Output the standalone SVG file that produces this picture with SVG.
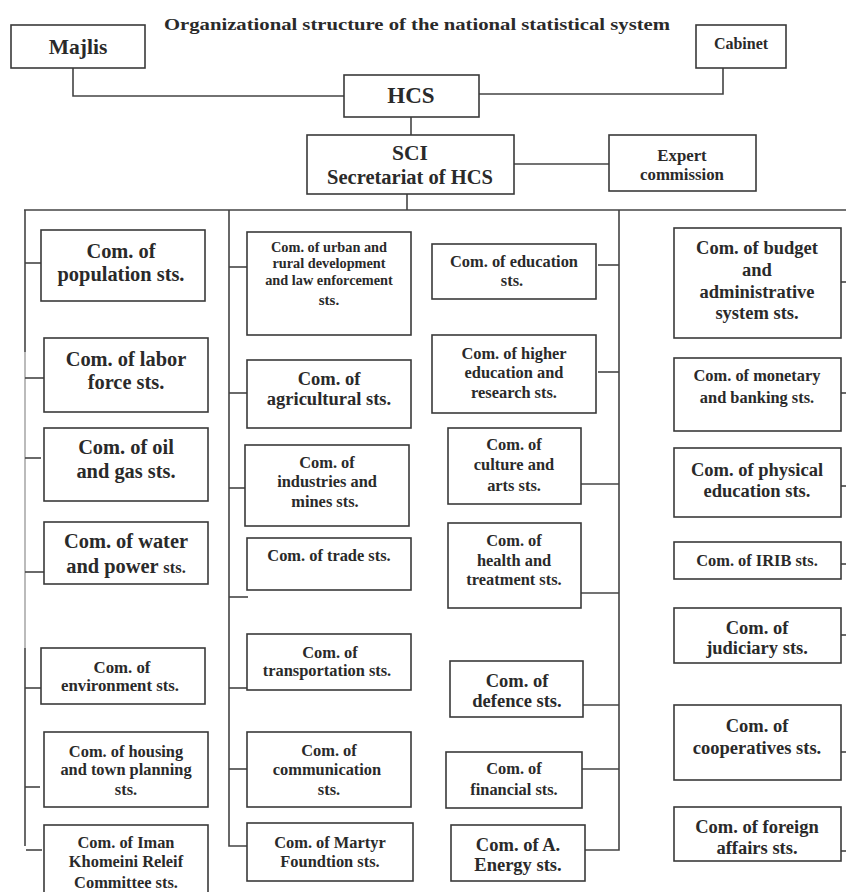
<svg xmlns="http://www.w3.org/2000/svg" width="846" height="892" viewBox="0 0 846 892">
<style>
.b{fill:#fff;stroke:#3a3a3a;stroke-width:1.6}
.t{font-family:"Liberation Serif","Times New Roman",serif;font-weight:bold;fill:#2a2a2a;text-anchor:middle}
.L{font-size:20.4px}
.M{font-size:18.5px}
.S{font-size:16.4px}
.c{fill:none;stroke:#444;stroke-width:1.6}
.g{fill:none;stroke:#aaa;stroke-width:1.6}
</style>
<rect width="846" height="892" fill="#fff"/>
<text class="t" x="417" y="30" font-size="17" textLength="506" lengthAdjust="spacingAndGlyphs">Organizational structure of the national statistical system</text>

<g id="connectors">
<polyline class="c" points="73,68 73,96 344,96"/>
<polyline class="c" points="479,94 723,94 723,68"/>
<line class="c" x1="411" y1="117" x2="411" y2="135"/>
<line class="c" x1="514" y1="164" x2="609" y2="164"/>
<line class="c" x1="407" y1="194" x2="407" y2="210"/>
<line class="c" x1="24" y1="210" x2="846" y2="210"/>
<line class="c" x1="25" y1="210" x2="25" y2="352"/>
<line class="g" x1="25" y1="352" x2="25" y2="648"/>
<line class="c" x1="25" y1="648" x2="25" y2="846"/>
<line class="c" x1="25" y1="263" x2="41" y2="263"/>
<line class="c" x1="25" y1="378" x2="44" y2="378"/>
<line class="c" x1="25" y1="458" x2="41" y2="458"/>
<line class="c" x1="25" y1="572" x2="44" y2="572"/>
<line class="c" x1="25" y1="688" x2="41" y2="688"/>
<line class="c" x1="25" y1="787" x2="40" y2="787"/>
<line class="c" x1="26" y1="850" x2="42" y2="850"/>
<polyline class="c" points="229,210 229,846 247,846"/>
<line class="c" x1="229" y1="267" x2="247" y2="267"/>
<line class="c" x1="229" y1="393" x2="247" y2="393"/>
<line class="c" x1="229" y1="488" x2="245" y2="488"/>
<line class="c" x1="229" y1="597" x2="248" y2="597"/>
<line class="c" x1="229" y1="688" x2="247" y2="688"/>
<line class="c" x1="229" y1="769" x2="247" y2="769"/>
<polyline class="c" points="619,210 619,850 580,850"/>
<line class="c" x1="598" y1="265" x2="619" y2="265"/>
<line class="c" x1="598" y1="372" x2="619" y2="372"/>
<line class="c" x1="581" y1="484" x2="619" y2="484"/>
<line class="c" x1="581" y1="593" x2="619" y2="593"/>
<line class="c" x1="580" y1="705" x2="619" y2="705"/>
<line class="c" x1="582" y1="769" x2="619" y2="769"/>
<line class="c" x1="841" y1="282" x2="846" y2="282"/>
<line class="c" x1="841" y1="393" x2="846" y2="393"/>
<line class="c" x1="841" y1="486" x2="846" y2="486"/>
<line class="c" x1="841" y1="564" x2="846" y2="564"/>
<line class="c" x1="841" y1="635" x2="846" y2="635"/>
<line class="c" x1="841" y1="752" x2="846" y2="752"/>
<line class="c" x1="841" y1="851" x2="846" y2="851"/>
</g>

<g id="majlis"><rect class="b" x="11" y="25" width="134" height="43"/><text class="t" x="78" y="54" font-size="21.5">Majlis</text></g>
<g id="cabinet"><rect class="b" x="696" y="25" width="90" height="43"/><text class="t" x="741" y="49" font-size="16">Cabinet</text></g>
<g id="hcs"><rect class="b" x="344" y="75" width="135" height="42"/><text class="t" x="411" y="103" font-size="23">HCS</text></g>
<g id="sci"><rect class="b" x="307" y="135" width="207" height="59"/><text class="t" x="410" y="160" font-size="21.5">SCI</text><text class="t" x="410" y="184" font-size="20.5">Secretariat of HCS</text></g>
<g id="expert"><rect class="b" x="609" y="135" width="147" height="56"/><text class="t" x="682" y="161" font-size="16.8">Expert</text><text class="t" x="682" y="180" font-size="16.8">commission</text></g>

<g id="population"><rect class="b" x="41" y="230" width="164" height="71"/><text class="t L" x="121" y="258">Com. of</text><text class="t L" x="121" y="281">population sts.</text></g>
<g id="labor"><rect class="b" x="44" y="338" width="164" height="74"/><text class="t L" x="126" y="366">Com. of labor</text><text class="t L" x="126" y="389">force sts.</text></g>
<g id="oilgas"><rect class="b" x="44" y="428" width="164" height="73"/><text class="t L" x="126" y="454">Com. of oil</text><text class="t L" x="126" y="478">and gas sts.</text></g>
<g id="water"><rect class="b" x="44" y="522" width="164" height="62"/><text class="t L" x="126" y="548">Com. of water</text><text class="t L" x="126" y="573">and power <tspan font-size="16.5">sts.</tspan></text></g>
<g id="environment"><rect class="b" x="41" y="648" width="164" height="56"/><text class="t" x="122" y="673" font-size="16.8">Com. of</text><text class="t" x="120" y="691" font-size="16.8">environment  sts.</text></g>
<g id="housing"><rect class="b" x="44" y="732" width="164" height="75"/><text class="t S" x="126" y="757">Com. of housing</text><text class="t S" x="126" y="775">and town planning</text><text class="t S" x="126" y="795">sts.</text></g>
<g id="iman"><rect class="b" x="44" y="825" width="164" height="80"/><text class="t S" x="126" y="848">Com. of Iman</text><text class="t S" x="126" y="867">Khomeini Releif</text><text class="t S" x="126" y="888">Committee sts.</text></g>

<g id="urban"><rect class="b" x="247" y="232" width="164" height="103"/><text class="t" x="329" y="252" font-size="14.3">Com. of urban and</text><text class="t" x="329" y="268" font-size="14.3">rural development</text><text class="t" x="329" y="285" font-size="14.3">and law enforcement</text><text class="t" x="329" y="305" font-size="15">sts.</text></g>
<g id="agricultural"><rect class="b" x="247" y="360" width="164" height="68"/><text class="t M" x="329" y="385">Com. of</text><text class="t M" x="329" y="405">agricultural sts.</text></g>
<g id="industries"><rect class="b" x="245" y="445" width="164" height="81"/><text class="t S" x="327" y="468">Com. of</text><text class="t S" x="327" y="487">industries and</text><text class="t S" x="325" y="507">mines sts.</text></g>
<g id="trade"><rect class="b" x="247" y="538" width="164" height="52"/><text class="t S" x="329" y="561">Com. of trade sts.</text></g>
<g id="transportation"><rect class="b" x="247" y="634" width="164" height="56"/><text class="t S" x="330" y="658">Com. of</text><text class="t S" x="327" y="676">transportation sts.</text></g>
<g id="communication"><rect class="b" x="247" y="732" width="164" height="75"/><text class="t S" x="329" y="756">Com. of</text><text class="t S" x="327" y="775">communication</text><text class="t S" x="329" y="795">sts.</text></g>
<g id="martyr"><rect class="b" x="247" y="823" width="166" height="58"/><text class="t S" x="330" y="848">Com. of Martyr</text><text class="t S" x="330" y="867">Foundtion sts.</text></g>

<g id="education"><rect class="b" x="432" y="244" width="164" height="55"/><text class="t S" x="514" y="267">Com. of education</text><text class="t S" x="512" y="286">sts.</text></g>
<g id="higher"><rect class="b" x="432" y="335" width="164" height="78"/><text class="t S" x="514" y="359">Com. of  higher</text><text class="t S" x="514" y="378">education  and</text><text class="t S" x="514" y="398">research sts.</text></g>
<g id="culture"><rect class="b" x="448" y="428" width="133" height="76"/><text class="t S" x="514" y="450">Com. of</text><text class="t S" x="514" y="470">culture and</text><text class="t S" x="514" y="491">arts  sts.</text></g>
<g id="health"><rect class="b" x="448" y="523" width="133" height="85"/><text class="t S" x="514" y="546">Com. of</text><text class="t S" x="514" y="566">health and</text><text class="t S" x="514" y="585">treatment sts.</text></g>
<g id="defence"><rect class="b" x="450" y="661" width="133" height="56"/><text class="t M" x="517" y="687">Com. of</text><text class="t M" x="517" y="707">defence sts.</text></g>
<g id="financial"><rect class="b" x="446" y="752" width="136" height="56"/><text class="t S" x="514" y="774">Com. of</text><text class="t S" x="514" y="795">financial sts.</text></g>
<g id="energy"><rect class="b" x="451" y="825" width="134" height="56"/><text class="t M" x="518" y="851">Com. of A.</text><text class="t M" x="518" y="871">Energy sts.</text></g>

<g id="budget"><rect class="b" x="674" y="228" width="167" height="110"/><text class="t M" x="757" y="254">Com. of budget</text><text class="t M" x="757" y="276">and</text><text class="t M" x="757" y="298">administrative</text><text class="t M" x="757" y="319">system sts.</text></g>
<g id="monetary"><rect class="b" x="674" y="358" width="167" height="73"/><text class="t S" x="757" y="381">Com. of monetary</text><text class="t S" x="757" y="403">and banking  sts.</text></g>
<g id="physical"><rect class="b" x="674" y="448" width="167" height="69"/><text class="t M" x="757" y="476">Com. of physical</text><text class="t M" x="757" y="497">education sts.</text></g>
<g id="irib"><rect class="b" x="674" y="542" width="167" height="37"/><text class="t S" x="757" y="566">Com. of IRIB sts.</text></g>
<g id="judiciary"><rect class="b" x="674" y="608" width="167" height="55"/><text class="t M" x="757" y="634">Com. of</text><text class="t M" x="757" y="654">judiciary sts.</text></g>
<g id="cooperatives"><rect class="b" x="674" y="705" width="167" height="75"/><text class="t M" x="757" y="732">Com. of</text><text class="t M" x="757" y="754">cooperatives  sts.</text></g>
<g id="foreign"><rect class="b" x="674" y="807" width="167" height="54"/><text class="t M" x="757" y="833">Com. of foreign</text><text class="t M" x="757" y="854">affairs sts.</text></g>
</svg>
